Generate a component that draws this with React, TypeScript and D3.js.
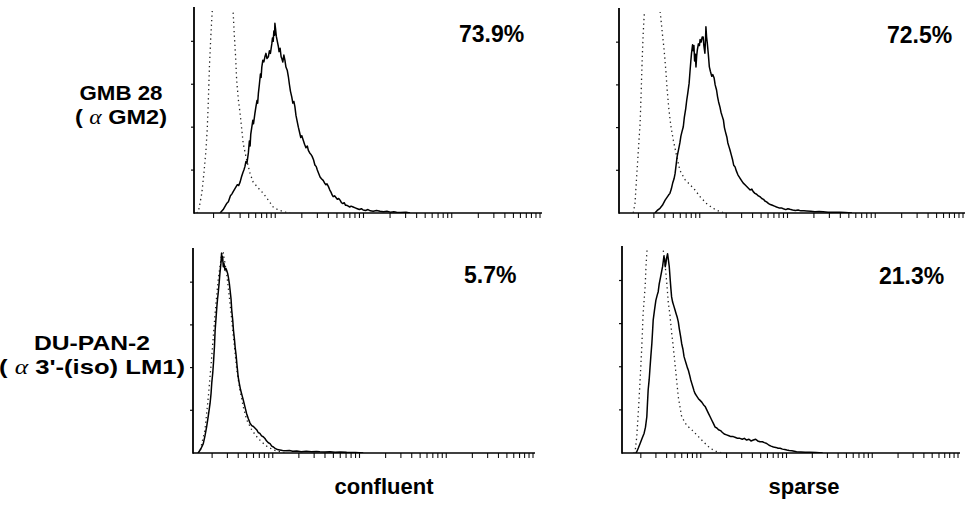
import { useEffect, useRef } from "react";
import * as d3 from "d3";

// each point: [channel (0-1024 over 4 log decades), cell count]
type Pt = [number, number];

const columnLabels = ["confluent", "sparse"];
const rowLabels = ["GMB 28", "DU-PAN-2"];
const rowAntigens = [" GM2)", " 3'-(iso) LM1)"];
const percentLabels = ["73.9%", "72.5%", "5.7%", "21.3%"];
const yTicks = [50, 100, 150, 200];

// GMB 28 / confluent
const gmbConfluent: Pt[] = [[96,0],[105,4],[112,9],[115,11],[120,13],[126,20],[130,22],[134,25],[140,29],[146,33],[150,32],[154,36],[158,42],[162,47],[165,50],[168,54],[171,60],[174,58],[178,70],[181,84],[183,78],[185,92],[188,100],[191,108],[193,104],[197,116],[200,124],[203,131],[205,128],[207,139],[210,150],[213,162],[215,158],[217,170],[220,178],[223,176],[226,182],[229,186],[232,180],[236,182],[239,189],[242,186],[246,197],[248,204],[250,200],[252,212],[254,207],[255,221],[257,214],[259,206],[262,200],[265,194],[267,188],[270,192],[273,182],[275,180],[278,176],[281,184],[284,178],[287,170],[291,166],[294,159],[297,150],[300,142],[304,135],[307,128],[310,130],[313,124],[316,114],[319,108],[323,100],[326,95],[330,88],[333,90],[337,85],[341,80],[345,76],[349,78],[352,73],[356,70],[360,68],[363,66],[367,62],[371,56],[375,54],[378,50],[382,46],[386,42],[390,40],[395,38],[399,35],[403,33],[406,34],[410,31],[414,27],[418,24],[421,21],[424,19],[428,20],[432,18],[436,16],[440,17],[444,15],[448,12],[452,11],[456,12],[460,9],[463,9],[468,8],[472,7],[476,8],[482,7],[488,6],[494,5],[500,4],[506,5],[511,3.5],[518,3],[525,4],[532,2.5],[540,2],[550,3],[560,2],[570,1.5],[580,2],[590,1],[600,1.5],[608,1],[620,0.5],[635,1],[647,0]];
const gmbConfluentCtrl: Pt[] = [[28,0],[33,1.5],[43,23],[49,46],[55,73],[59,100],[62,132],[65,170],[69,205],[73,234],[80,265],[90,285],[107,290],[122,275],[130,250],[134,233],[137,209],[141,182],[144,155],[149,132],[154,116],[159,97],[163,81],[173,62],[183,46],[192,36],[207,29],[221,23],[236,15],[250,7],[265,3.5],[284,1],[299,0]];

// GMB 28 / sparse
const gmbSparse: Pt[] = [[125,0],[132,3],[140,5.5],[147,9],[155,15],[160,18],[165,21],[169,23],[173,28],[177,35],[181,40],[184,46],[187,56],[190,66],[194,74],[198,82],[201,90],[204,95],[208,101],[211,112],[215,122],[218,132],[221,140],[225,152],[228,168],[230,178],[232,187],[235,197],[237,190],[239,196],[241,178],[243,186],[245,171],[247,184],[249,191],[252,198],[255,196],[257,203],[260,200],[263,206],[266,206],[268,196],[271,187],[273,205],[274,218],[276,206],[278,199],[281,186],[284,171],[287,166],[291,160],[294,162],[298,158],[301,150],[305,144],[308,136],[311,130],[315,124],[318,118],[321,114],[325,109],[328,100],[331,95],[335,89],[338,82],[341,78],[344,74],[348,68],[352,62],[355,56],[359,54],[363,49],[367,45],[370,43],[373,41],[378,38],[383,35],[388,33],[393,31],[398,29],[403,27],[408,28],[412,25],[417,23],[422,22],[427,20],[432,19],[437,17],[442,16],[446,14],[451,13],[457,11],[462,10],[468,9],[474,8],[480,7],[487,6],[494,6],[500,5],[507,4],[513,5],[519,4.3],[527,3.5],[535,3],[543,3.5],[551,2.5],[560,2.5],[568,2.3],[580,2],[592,1.5],[604,1.8],[616,1.5],[630,1],[645,1],[665,0.8],[680,0.5],[700,0]];
const gmbSparseCtrl: Pt[] = [[62,0],[67,11],[72,43],[77,74],[82,105],[85,140],[88,179],[91,210],[94,232],[100,265],[111,280],[125,275],[135,255],[142,230],[147,210],[152,191],[157,167],[161,144],[166,121],[172,101],[179,85],[189,66],[198,50],[213,39],[228,33],[242,27],[257,19],[276,11],[295,5.5],[315,1.5],[330,0]];

// DU-PAN-2 / confluent
const dupanConfluent: Pt[] = [[36,0],[44,5],[51,11],[56,20],[61,31],[66,44],[71,58],[74,70],[76,82],[79,94],[81,105],[84,125],[86,144],[89,160],[91,171],[93,180],[95,187],[98,200],[100,210],[103,222],[105,234],[107,225],[108,230],[110,218],[112,222],[115,214],[118,216],[120,214],[123,210],[125,206],[128,198],[130,191],[133,180],[135,167],[138,155],[140,144],[143,133],[145,124],[148,114],[150,105],[152,97],[154,89],[157,82],[161,74],[165,68],[169,62],[174,54],[179,46],[184,40],[189,35],[194,32],[199,31],[204,29],[209,27],[213,24],[218,23],[223,20],[228,19],[233,17],[238,14],[243,12],[248,11],[253,8],[258,7],[263,5.5],[270,4],[277,3.5],[285,3],[295,2.5],[305,3],[315,2],[327,2.3],[340,1.5],[355,2],[370,1.5],[385,1.8],[395,1.5],[410,1.2],[425,1.5],[440,1],[455,1.2],[474,0.8],[500,0.5],[523,0]];
const dupanConfluentCtrl: Pt[] = [[34,0],[41,1.5],[56,27],[66,66],[76,113],[86,164],[95,203],[105,232],[110,234],[120,210],[130,175],[140,136],[150,97],[159,74],[169,54],[179,39],[194,27],[209,19],[223,13],[238,8],[258,3.5],[277,1.5],[300,0]];

// DU-PAN-2 / sparse
const dupanSparse: Pt[] = [[62,0],[65,1.5],[70,6],[75,11],[81,17],[87,23],[91,30],[95,42],[97,58],[99,73],[102,85],[104,96],[107,112],[110,127],[112,140],[114,154],[118,166],[122,177],[126,183],[129,187],[132,196],[136,204],[139,210],[142,216],[144,222],[146,228],[148,225],[150,216],[152,220],[154,226],[157,231],[159,225],[162,216],[165,200],[167,190],[169,181],[172,175],[176,170],[179,166],[182,162],[186,157],[189,152],[192,144],[196,135],[199,127],[203,120],[206,112],[209,108],[213,103],[216,99],[219,96],[223,90],[226,85],[229,81],[233,76],[236,72],[239,69],[244,66],[249,63],[254,61],[259,59],[264,56],[269,54],[274,50],[279,46],[284,42],[289,38],[294,34],[299,30],[304,29],[309,27],[315,26],[320,24],[326,22],[333,21],[340,20],[346,19],[353,19],[360,18],[366,17],[373,17],[380,16],[386,17],[393,15],[400,16],[406,14],[413,15],[420,16],[426,14],[433,13],[440,13],[446,12],[453,11],[460,9],[466,8],[473,7],[480,6.5],[487,5.5],[493,5.5],[500,4.5],[507,4],[513,3.5],[520,3],[528,2.5],[535,2],[542,1.5],[555,1.2],[568,1],[582,0.8],[600,0.5],[620,0]];
const dupanSparseCtrl: Pt[] = [[55,0],[60,1.5],[65,19],[70,50],[75,85],[80,123],[84,162],[90,193],[93,220],[96,237],[103,262],[115,275],[128,268],[140,245],[148,225],[155,195],[159,175],[164,160],[169,140],[174,123],[182,92],[189,65],[199,42],[214,32],[229,27],[244,21],[264,13],[284,5.5],[304,1.5],[320,0]];

const stained = [gmbConfluent, gmbSparse, dupanConfluent, dupanSparse];
const controls = [gmbConfluentCtrl, gmbSparseCtrl, dupanConfluentCtrl, dupanSparseCtrl];

// panel frames (pixels): y-axis x, right end, log range start/end, top, bottom
const frames = [
  { ax: 194, right: 542, l0: 187, l1: 540, top: 7, bottom: 213, px: 459, py: 42 },
  { ax: 619, right: 965, l0: 612, l1: 963, top: 8, bottom: 213, px: 887, py: 43 },
  { ax: 193, right: 535, l0: 186, l1: 533, top: 248, bottom: 453, px: 464, py: 283 },
  { ax: 622, right: 960, l0: 615, l1: 958, top: 246, bottom: 453, px: 879, py: 284 },
];

const font = "'Liberation Sans', Arial, Helvetica, sans-serif";

const App = () => {
  const svgRef = useRef<SVGSVGElement | null>(null);

  useEffect(() => {
    const svg = d3.select(svgRef.current);
    svg.selectAll("*").remove();

    frames.forEach((f, i) => {
      const g = svg.append("g");
      const xLin = d3.scaleLinear().domain([0, 1024]).range([f.l0, f.l1]);
      const xLog = d3.scaleLog().domain([1, 1e4]).range([f.l0, f.l1]);
      const y = d3.scaleLinear().domain([0, 240]).range([f.bottom, f.top]);

      // x ticks (log decades, pointing down)
      const xt = xLog.ticks().filter(v => xLog(v) > f.ax + 1 && xLog(v) <= f.right);
      g.append("g")
        .selectAll("line")
        .data(xt)
        .join("line")
        .attr("x1", d => xLog(d))
        .attr("x2", d => xLog(d))
        .attr("y1", f.bottom)
        .attr("y2", f.bottom + 5)
        .attr("stroke", "#111")
        .attr("stroke-width", 1.1);

      // y ticks (pointing left)
      g.append("g")
        .selectAll("line")
        .data(yTicks)
        .join("line")
        .attr("x1", f.ax - 3)
        .attr("x2", f.ax)
        .attr("y1", d => y(d))
        .attr("y2", d => y(d))
        .attr("stroke", "#111")
        .attr("stroke-width", 1.2);

      // axes
      g.append("line")
        .attr("x1", f.ax).attr("x2", f.right)
        .attr("y1", f.bottom).attr("y2", f.bottom)
        .attr("stroke", "#000").attr("stroke-width", 1.6);
      g.append("line")
        .attr("x1", f.ax).attr("x2", f.ax)
        .attr("y1", f.top).attr("y2", f.bottom + 0.8)
        .attr("stroke", "#000").attr("stroke-width", 1.8);

      const clipId = `clip${i}`;
      svg.append("clipPath").attr("id", clipId)
        .append("rect")
        .attr("x", f.ax).attr("y", f.top + 4)
        .attr("width", f.right - f.ax).attr("height", f.bottom - f.top - 4);

      const line = d3.line<Pt>().x(d => xLin(d[0])).y(d => y(d[1]));

      g.append("path")
        .attr("d", line(controls[i]))
        .attr("clip-path", `url(#${clipId})`)
        .attr("fill", "none")
        .attr("stroke", "#222")
        .attr("stroke-width", 1.3)
        .attr("stroke-dasharray", "1.3 3.3");

      g.append("path")
        .attr("d", line(stained[i]))
        .attr("clip-path", `url(#${clipId})`)
        .attr("fill", "none")
        .attr("stroke", "#000")
        .attr("stroke-width", 1.5)
        .attr("stroke-linejoin", "round");

      g.append("text")
        .attr("x", f.px).attr("y", f.py)
        .attr("font-family", font)
        .attr("font-weight", "bold")
        .attr("font-size", 23)
        .attr("fill", "#000")
        .text(percentLabels[i]);
    });

    // row labels
    const rowPos = [
      { cx: 121, y1: 100, y2: 124, size: 20.5, w1: 83, w2: 92 },
      { cx: 92, y1: 350, y2: 374, size: 21, w1: 116, w2: 186 },
    ];
    rowPos.forEach((r, i) => {
      svg.append("text")
        .attr("x", r.cx).attr("y", r.y1)
        .attr("text-anchor", "middle")
        .attr("font-family", font).attr("font-weight", "bold")
        .attr("font-size", r.size)
        .attr("textLength", r.w1)
        .attr("lengthAdjust", "spacingAndGlyphs")
        .text(rowLabels[i]);
      const t = svg.append("text")
        .attr("x", r.cx).attr("y", r.y2)
        .attr("text-anchor", "middle")
        .attr("font-family", font).attr("font-weight", "bold")
        .attr("font-size", r.size)
        .attr("textLength", r.w2)
        .attr("lengthAdjust", "spacingAndGlyphs");
      t.append("tspan").text("( ");
      t.append("tspan")
        .attr("font-family", "'Liberation Serif', 'DejaVu Serif', serif")
        .attr("font-style", "italic")
        .attr("font-weight", "normal")
        .text("α");
      t.append("tspan").text(rowAntigens[i]);
    });

    // column labels
    const colX = [384, 804];
    columnLabels.forEach((c, i) => {
      svg.append("text")
        .attr("x", colX[i]).attr("y", 494)
        .attr("text-anchor", "middle")
        .attr("font-family", font).attr("font-weight", "bold")
        .attr("font-size", 22)
        .text(c);
    });
  }, []);

  return (
    <svg
      ref={svgRef}
      width={969}
      height={505}
      style={{ position: "absolute", left: 0, top: 0, background: "#fff" }}
    />
  );
};

export default App;
